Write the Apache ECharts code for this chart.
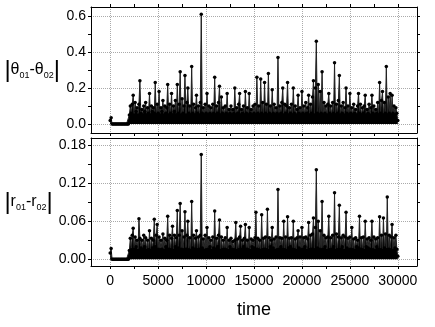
<!DOCTYPE html>
<html>
<head>
<meta charset="utf-8">
<script src="https://cdn.jsdelivr.net/npm/echarts@6/dist/echarts.min.js"></script>
<style>
  html, body { margin: 0; padding: 0; background: #fff; }
  #chart { width: 435px; height: 327px; }
</style>
</head>
<body>
<div id="chart"></div>
<script>
  // sampling of the time axis: one value every 100 time units, from 0 to 30000
  const tStart = 0
  const tStep = 100

  // |θ01-θ02| (top panel), one row per 1000 time units
  const thetaDiff = [
    0.02, 0.035, 0, 0, 0, 0, 0, 0, 0, 0,
    0, 0, 0, 0, 0, 0, 0, 0, 0, 0,
    0.05, 0.10, 0.06, 0.11, 0.16, 0.05, 0.12, 0.07, 0.09, 0.05,
    0.11, 0.24, 0.06, 0.08, 0.05, 0.10, 0.07, 0.12, 0.05, 0.09,
    0.06, 0.17, 0.05, 0.10, 0.07, 0.09, 0.06, 0.23, 0.05, 0.11,
    0.06, 0.18, 0.05, 0.09, 0.07, 0.13, 0.05, 0.10, 0.06, 0.09,
    0.22, 0.05, 0.11, 0.06, 0.17, 0.05, 0.10, 0.07, 0.13, 0.05,
    0.22, 0.06, 0.11, 0.29, 0.05, 0.14, 0.06, 0.10, 0.27, 0.05,
    0.12, 0.20, 0.06, 0.10, 0.05, 0.32, 0.06, 0.11, 0.05, 0.09,
    0.16, 0.06, 0.10, 0.05, 0.12, 0.61, 0.06, 0.09, 0.05, 0.11,
    0.06, 0.17, 0.05, 0.10, 0.06, 0.09, 0.05, 0.11, 0.06, 0.26,
    0.05, 0.10, 0.06, 0.12, 0.21, 0.05, 0.15, 0.06, 0.09, 0.05,
    0.10, 0.06, 0.17, 0.05, 0.08, 0.06, 0.10, 0.05, 0.08, 0.06,
    0.20, 0.05, 0.09, 0.06, 0.11, 0.17, 0.05, 0.08, 0.06, 0.10,
    0.05, 0.18, 0.06, 0.09, 0.05, 0.17, 0.06, 0.08, 0.05, 0.10,
    0.06, 0.11, 0.05, 0.26, 0.06, 0.10, 0.05, 0.25, 0.06, 0.12,
    0.05, 0.23, 0.06, 0.11, 0.05, 0.28, 0.06, 0.10, 0.05, 0.19,
    0.06, 0.11, 0.05, 0.09, 0.06, 0.37, 0.05, 0.10, 0.06, 0.12,
    0.20, 0.05, 0.11, 0.06, 0.10, 0.23, 0.05, 0.09, 0.06, 0.11,
    0.05, 0.20, 0.06, 0.10, 0.05, 0.08, 0.16, 0.06, 0.09, 0.05,
    0.18, 0.06, 0.10, 0.05, 0.12, 0.06, 0.09, 0.16, 0.05, 0.11,
    0.06, 0.15, 0.24, 0.05, 0.20, 0.46, 0.06, 0.22, 0.05, 0.18,
    0.06, 0.29, 0.05, 0.12, 0.06, 0.10, 0.05, 0.11, 0.17, 0.06,
    0.10, 0.05, 0.12, 0.06, 0.34, 0.05, 0.11, 0.06, 0.13, 0.27,
    0.05, 0.10, 0.06, 0.12, 0.05, 0.09, 0.20, 0.06, 0.10, 0.05,
    0.17, 0.06, 0.09, 0.05, 0.11, 0.06, 0.08, 0.05, 0.10, 0.17,
    0.06, 0.11, 0.05, 0.09, 0.06, 0.10, 0.16, 0.05, 0.08, 0.06,
    0.11, 0.05, 0.09, 0.16, 0.06, 0.10, 0.05, 0.08, 0.06, 0.12,
    0.05, 0.23, 0.06, 0.13, 0.18, 0.05, 0.12, 0.06, 0.32, 0.05,
    0.15, 0.06, 0.17, 0.05, 0.16, 0.06, 0.10, 0.05, 0.09, 0.06,
    0.02
  ]

  // |r01-r02| (bottom panel)
  const rDiff = [
    0.01, 0.017, 0, 0, 0, 0, 0, 0, 0, 0,
    0, 0, 0, 0, 0, 0, 0, 0, 0, 0,
    0.014, 0.033, 0.015, 0.038, 0.049, 0.016, 0.035, 0.020, 0.030, 0.014,
    0.064, 0.033, 0.018, 0.030, 0.016, 0.038, 0.020, 0.034, 0.014, 0.030,
    0.015, 0.045, 0.014, 0.033, 0.018, 0.030, 0.063, 0.020, 0.038, 0.055,
    0.016, 0.035, 0.015, 0.030, 0.016, 0.040, 0.014, 0.033, 0.020, 0.030,
    0.068, 0.016, 0.038, 0.015, 0.033, 0.052, 0.014, 0.038, 0.020, 0.034,
    0.077, 0.018, 0.038, 0.088, 0.016, 0.045, 0.015, 0.035, 0.075, 0.016,
    0.038, 0.060, 0.015, 0.034, 0.014, 0.091, 0.018, 0.038, 0.016, 0.033,
    0.045, 0.015, 0.035, 0.016, 0.038, 0.165, 0.018, 0.032, 0.014, 0.038,
    0.015, 0.050, 0.016, 0.034, 0.020, 0.030, 0.014, 0.035, 0.018, 0.076,
    0.016, 0.033, 0.020, 0.038, 0.062, 0.014, 0.035, 0.015, 0.030, 0.016,
    0.034, 0.015, 0.050, 0.014, 0.030, 0.020, 0.033, 0.016, 0.028, 0.015,
    0.030, 0.058, 0.014, 0.032, 0.015, 0.035, 0.052, 0.016, 0.030, 0.020,
    0.033, 0.055, 0.016, 0.030, 0.015, 0.050, 0.014, 0.032, 0.020, 0.030,
    0.018, 0.034, 0.074, 0.016, 0.033, 0.015, 0.030, 0.014, 0.070, 0.015,
    0.033, 0.016, 0.035, 0.015, 0.079, 0.014, 0.034, 0.020, 0.030, 0.050,
    0.018, 0.032, 0.014, 0.035, 0.015, 0.110, 0.016, 0.034, 0.020, 0.033,
    0.016, 0.060, 0.015, 0.035, 0.014, 0.067, 0.018, 0.033, 0.020, 0.034,
    0.016, 0.060, 0.015, 0.032, 0.014, 0.034, 0.045, 0.018, 0.035, 0.015,
    0.050, 0.016, 0.034, 0.020, 0.035, 0.014, 0.032, 0.058, 0.015, 0.038,
    0.016, 0.040, 0.065, 0.015, 0.050, 0.141, 0.018, 0.060, 0.016, 0.045,
    0.015, 0.091, 0.016, 0.038, 0.020, 0.034, 0.014, 0.035, 0.068, 0.015,
    0.034, 0.016, 0.038, 0.020, 0.105, 0.014, 0.040, 0.015, 0.035, 0.085,
    0.016, 0.034, 0.020, 0.038, 0.014, 0.035, 0.074, 0.018, 0.033, 0.015,
    0.035, 0.016, 0.050, 0.015, 0.032, 0.014, 0.034, 0.020, 0.030, 0.018,
    0.068, 0.016, 0.034, 0.015, 0.035, 0.014, 0.060, 0.020, 0.032, 0.018,
    0.034, 0.016, 0.030, 0.060, 0.015, 0.035, 0.014, 0.032, 0.020, 0.034,
    0.016, 0.067, 0.015, 0.038, 0.014, 0.065, 0.018, 0.040, 0.015, 0.098,
    0.016, 0.038, 0.015, 0.035, 0.055, 0.014, 0.034, 0.018, 0.038, 0.016,
    0.005
  ]

  // ticks
  const timeTicks = [0, 5000, 10000, 15000, 20000, 25000, 30000]
  const timeMinorTicks = [2500, 7500, 12500, 17500, 22500, 27500]
  const thetaTicks = [0, 0.2, 0.4, 0.6]
  const thetaMinorTicks = [0.1, 0.3, 0.5]
  const rTicks = [0, 0.06, 0.12, 0.18]
  const rMinorTicks = [0.03, 0.09, 0.15]

  const FONT = 'Liberation Sans'

  function toPairs (values) {
    return values.map((v, i) => [tStart + i * tStep, v])
  }

  // axes of one panel: 0 = main (bottom/left), 1 = mirror (top/right), 2 = grid lines only
  function xAxes (gridIndex, showLabels, topTicks) {
    let base = {
      type: 'value',
      gridIndex: gridIndex,
      min: -2000,
      max: 32000,
      axisLine: { show: true, onZero: false, lineStyle: { color: '#000', width: 1 } },
      splitLine: { show: false }
    }
    return [
      Object.assign({}, base, {
        position: 'bottom',
        axisTick: { show: true, inside: false, length: 3, customValues: timeTicks.concat(timeMinorTicks), lineStyle: { color: '#000' } },
        axisLabel: {
          show: showLabels,
          customValues: timeTicks,
          color: '#000',
          fontFamily: FONT,
          fontSize: 14,
          margin: 8,
          formatter: v => String(v)
        },
        name: showLabels ? 'time' : '',
        nameLocation: 'middle',
        nameGap: 35,
        nameTextStyle: { color: '#000', fontFamily: FONT, fontSize: 18 }
      }),
      Object.assign({}, base, {
        position: 'top',
        axisTick: { show: topTicks, inside: false, length: 3, customValues: timeTicks.concat(timeMinorTicks), lineStyle: { color: '#000' } },
        axisLabel: { show: false }
      }),
      Object.assign({}, base, {
        position: 'bottom',
        axisLine: { show: false },
        axisTick: { show: false, customValues: timeTicks },
        axisLabel: { show: false },
        splitLine: { show: true, lineStyle: { color: '#aaa', type: 'dotted', width: 1 } }
      })
    ]
  }

  function yAxes (gridIndex, min, max, ticks, minor, digits, name) {
    let base = {
      type: 'value',
      gridIndex: gridIndex,
      min: min,
      max: max,
      axisLine: { show: true, onZero: false, lineStyle: { color: '#000', width: 1 } },
      splitLine: { show: false }
    }
    return [
      Object.assign({}, base, {
        position: 'left',
        axisTick: { show: true, inside: false, length: 3, customValues: ticks.concat(minor), lineStyle: { color: '#000' } },
        axisLabel: {
          customValues: ticks,
          color: '#000',
          fontFamily: FONT,
          fontSize: 14,
          margin: 5,
          formatter: v => v.toFixed(digits)
        },
        name: name,
        nameLocation: 'middle',
        nameRotate: 0,
        nameGap: 31,
        nameTextStyle: {
          align: 'right',
          verticalAlign: 'middle',
          color: '#000',
          fontFamily: FONT,
          rich: {
            bar: { fontSize: 24, fontFamily: FONT, color: '#000', lineHeight: 28 },
            sym: { fontSize: 16, fontFamily: FONT, color: '#000', lineHeight: 28 },
            sub: { fontSize: 9, fontFamily: FONT, color: '#000', lineHeight: 28, padding: [12, 0, 0, 0] }
          }
        }
      }),
      Object.assign({}, base, {
        position: 'right',
        axisTick: { show: true, inside: false, length: 3, customValues: ticks.concat(minor), lineStyle: { color: '#000' } },
        axisLabel: { show: false }
      }),
      Object.assign({}, base, {
        position: 'left',
        axisLine: { show: false },
        axisTick: { show: false, customValues: ticks },
        axisLabel: { show: false },
        splitLine: { show: true, lineStyle: { color: '#aaa', type: 'dotted', width: 1 } }
      })
    ]
  }

  function lineSeries (xIndex, yIndex, values) {
    return {
      type: 'line',
      xAxisIndex: xIndex,
      yAxisIndex: yIndex,
      data: toPairs(values),
      showSymbol: true,
      showAllSymbol: true,
      symbol: 'circle',
      symbolSize: 3.5,
      itemStyle: { color: '#000' },
      lineStyle: { color: '#222', width: 1 },
      areaStyle: { color: '#000', opacity: 1 },
      z: 3
    }
  }

  let myChart = echarts.init(document.getElementById('chart'))
  myChart.setOption({
    animation: false,
    backgroundColor: '#fff',
    grid: [
      { left: 91, top: 7, width: 326, height: 126 },
      { left: 91, top: 138, width: 326, height: 128 }
    ],
    xAxis: xAxes(0, false, true).concat(xAxes(1, true, false)),
    yAxis: yAxes(0, -0.05, 0.65, thetaTicks, thetaMinorTicks, 1,
      '{bar||}{sym|θ}{sub|01}{sym|-θ}{sub|02}{bar||}')
      .concat(yAxes(1, -0.0105, 0.191, rTicks, rMinorTicks, 2,
        '{bar||}{sym|r}{sub|01}{sym|-r}{sub|02}{bar||}')),
    series: [
      lineSeries(0, 0, thetaDiff),
      lineSeries(3, 3, rDiff)
    ]
  })
</script>
</body>
</html>
